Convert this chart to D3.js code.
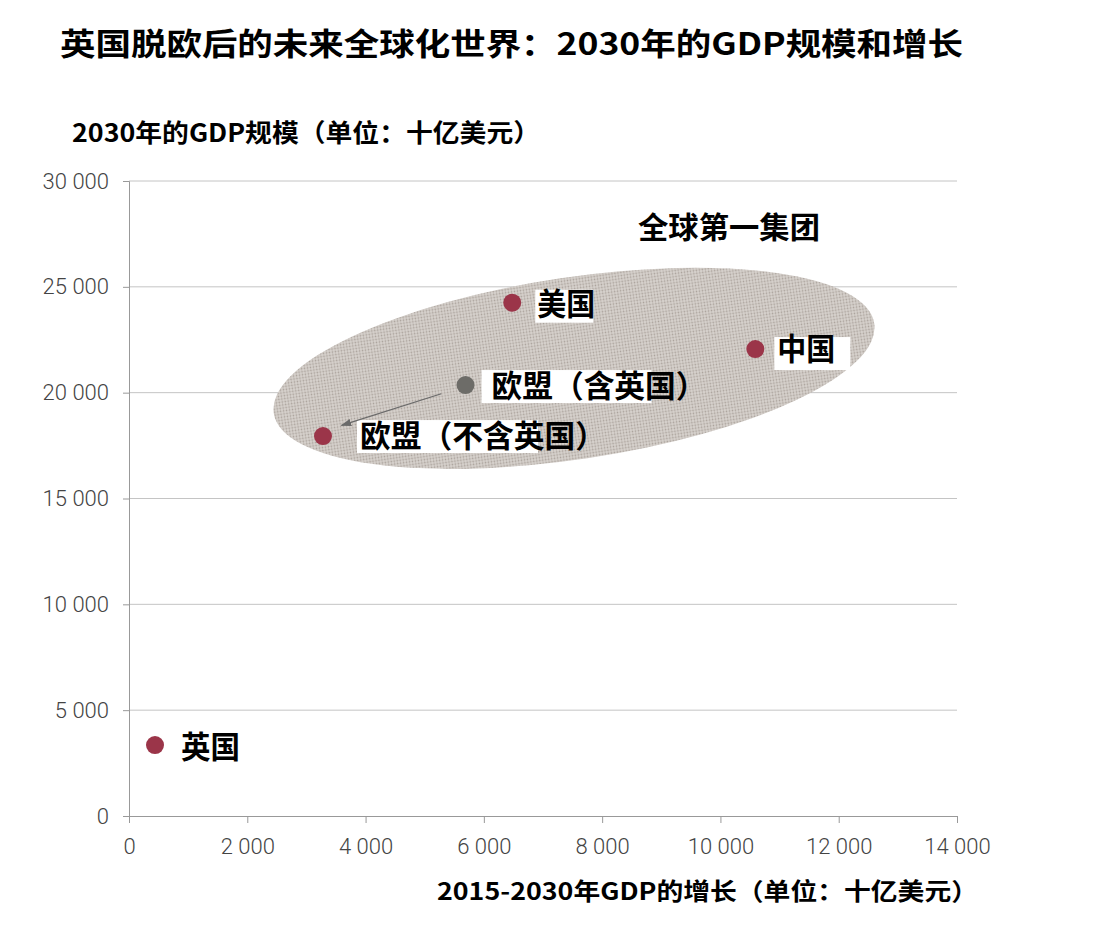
<!DOCTYPE html>
<html><head><meta charset="utf-8">
<script src="https://cdn.jsdelivr.net/npm/d3@7"></script>
<style>
body{margin:0;background:#fff;}
svg{display:block;}
.cjk{font-family:"Noto Sans CJK SC","Noto Sans",sans-serif;font-weight:700;fill:#000;}
.tick text{font-family:Roboto,"Liberation Sans",sans-serif;font-weight:300;font-size:22px;fill:#444;}
</style></head>
<body>
<script>
const countries = ["英国","美国","中国","欧盟（含英国）","欧盟（不含英国）"];
const growth = [440, 6480, 10590, 5690, 3280];
const size2030 = [3350, 24250, 22060, 20360, 17950];
const dotGroup = ["red","red","red","gray","red"];
const xTicks = [0,2000,4000,6000,8000,10000,12000,14000];
const yTicks = [0,5000,10000,15000,20000,25000,30000];
const groupLabel = "全球第一集团";
// ellipse annotation (in data units)
const ellipseCenter = [7524, 21150];
const ellipseRadii = [5133, 4300];

const W=1093,H=925;
const svg=d3.select("body").append("svg").attr("width",W).attr("height",H);
const x=d3.scaleLinear().domain([0,14000]).range([129,957]);
const y=d3.scaleLinear().domain([0,30000]).range([816,181]);
const loc=d3.formatLocale({decimal:".",thousands:" ",grouping:[3],currency:["",""]});
const fmt=loc.format(",");

const defs=svg.append("defs");
const pat=defs.append("pattern").attr("id","dots").attr("width",3).attr("height",3).attr("patternUnits","userSpaceOnUse");
pat.append("rect").attr("width",3).attr("height",3).attr("fill","#d8d3ce");
pat.append("circle").attr("cx",1.5).attr("cy",1.5).attr("r",0.9).attr("fill","#aaa29b");
defs.append("marker").attr("id","arr").attr("viewBox","0 0 10 10").attr("refX",9).attr("refY",5)
  .attr("markerWidth",9).attr("markerHeight",9).attr("orient","auto-start-reverse")
  .append("path").attr("d","M0,1.5L10,5L0,8.5z").attr("fill","#6a6a6a");

// grid
svg.append("g").selectAll("line").data(yTicks.filter(d=>d>0)).join("line")
  .attr("x1",x(0)).attr("x2",x(14000)).attr("y1",d=>y(d)).attr("y2",d=>y(d))
  .attr("stroke","#c4c4c4").attr("stroke-width",1);

// axes
const yAxis=svg.append("g").attr("transform",`translate(${x(0)},0)`)
  .call(d3.axisLeft(y).tickValues(yTicks).tickFormat(fmt).tickSize(6).tickPadding(14));
yAxis.select(".domain").attr("stroke","#999");
yAxis.selectAll(".tick line").attr("stroke","#999");
const xAxis=svg.append("g").attr("transform",`translate(0,${y(0)})`)
  .call(d3.axisBottom(x).tickValues(xTicks).tickFormat(fmt).tickSize(7).tickPadding(12));
xAxis.select(".domain").attr("stroke","#999");
xAxis.selectAll(".tick line").attr("stroke","#999");
xAxis.selectAll(".tick text").attr("dy","0.85em");

// ellipse
const cx=x(ellipseCenter[0]), cy=y(ellipseCenter[1]);
svg.append("ellipse").attr("cx",cx).attr("cy",cy)
  .attr("rx",x(ellipseRadii[0])-x(0)).attr("ry",y(0)-y(ellipseRadii[1]))
  .attr("transform",`rotate(-8.5,${cx},${cy})`)
  .attr("fill","url(#dots)");

svg.append("text").attr("class","cjk").attr("x",638).attr("y",238).attr("font-size",30)
  .attr("textLength",182).attr("lengthAdjust","spacingAndGlyphs").text(groupLabel);

// label backgrounds (partial white boxes as in the original)
const bgBoxes=[null,[23,-13,58,33],[19,-12,76,33],[16,-15,170,33],[34,-16,181,33]];
const labelDx=[26,25,22,26,37];
const labelDy=[4,4,3,4,3];
const labelW=[59,58,58,215,246];

const pts=countries.map((c,i)=>({c,gx:growth[i],gy:size2030[i],g:dotGroup[i],i}));
const lab=svg.append("g");
pts.forEach(p=>{
  const b=bgBoxes[p.i];
  if(b) lab.append("rect").attr("x",x(p.gx)+b[0]).attr("y",y(p.gy)+b[1]).attr("width",b[2]).attr("height",b[3]).attr("fill","#fff");
});
pts.forEach(p=>{
  lab.append("text").attr("class","cjk").attr("x",x(p.gx)+labelDx[p.i]).attr("y",y(p.gy)+labelDy[p.i])
    .attr("dominant-baseline","middle").attr("font-size",31)
    .attr("textLength",labelW[p.i]).attr("lengthAdjust","spacingAndGlyphs").text(p.c);
});

// arrow from EU incl UK to EU excl UK
const a=pts[3], bP=pts[4];
const x0=x(a.gx),y0=y(a.gy),x1=x(bP.gx),y1=y(bP.gy);
svg.append("line").attr("x1",x0+(x1-x0)*0.17).attr("y1",y0+(y1-y0)*0.17)
  .attr("x2",x0+(x1-x0)*0.87).attr("y2",y0+(y1-y0)*0.87-4)
  .attr("stroke","#6a6a6a").attr("stroke-width",1.2).attr("marker-end","url(#arr)");

// dots
svg.append("g").selectAll("circle").data(pts).join("circle")
  .attr("cx",d=>x(d.gx)).attr("cy",d=>y(d.gy)).attr("r",9)
  .attr("fill",d=>d.g==="red"?"#9b3549":"#6d6c68");

// titles
svg.append("text").attr("class","cjk").attr("x",60).attr("y",55).attr("font-size",31)
  .attr("textLength",903).attr("lengthAdjust","spacingAndGlyphs")
  .text("英国脱欧后的未来全球化世界：2030年的GDP规模和增长");
svg.append("text").attr("class","cjk").attr("x",72).attr("y",142).attr("font-size",25)
  .attr("textLength",468).attr("lengthAdjust","spacingAndGlyphs")
  .text("2030年的GDP规模（单位：十亿美元）");
svg.append("text").attr("class","cjk").attr("x",437).attr("y",900).attr("font-size",24)
  .attr("textLength",541).attr("lengthAdjust","spacingAndGlyphs")
  .text("2015-2030年GDP的增长（单位：十亿美元）");
</script>
</body></html>
